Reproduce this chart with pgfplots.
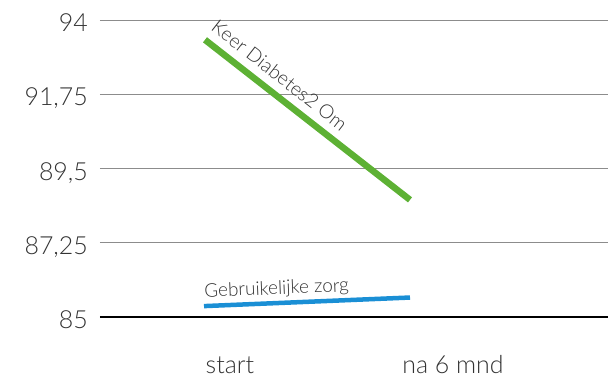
\documentclass[border=0pt]{standalone}
\usepackage{pgfplots}
\pgfplotsset{compat=1.18}
\usepackage{fontspec}
\setmainfont{Lato Light}
\definecolor{kdgreen}{HTML}{5DB134}
\definecolor{gzblue}{HTML}{1A8FD5}
\definecolor{txt}{HTML}{333333}
\definecolor{gridc}{HTML}{8C8C8C}
\begin{document}
\begin{tikzpicture}
\useasboundingbox (-100bp,-62bp) rectangle (508bp,317bp);
\begin{axis}[
  at={(0,0)}, anchor=south west,
  scale only axis, width=508bp, height=297bp,
  xmin=0, xmax=508, ymin=85, ymax=94,
  clip=false,
  axis x line*=bottom, axis y line*=left,
  y axis line style={draw=none},
  x axis line style={black, line width=1.5bp},
  major tick length=0pt,
  xtick={130,353}, xticklabels={start,na 6 mnd},
  ytick={85,87.25,89.5,91.75,94},
  yticklabels={85,{87,25},{89,5},{91,75},94},
  ymajorgrids, grid style={gridc, line width=1bp},
  tick label style={font=\fontsize{25}{30}\selectfont, text=txt},
  xticklabel style={anchor=base, inner sep=0pt, yshift=-56bp},
  yticklabel style={anchor=base east, inner sep=0pt, xshift=-12bp, yshift=-11.5bp},
]
\addplot[kdgreen, line width=6.5bp] coordinates {(105,93.40) (310,88.55)}
  node[pos=0.31, sloped, anchor=base, inner sep=0pt, yshift=11bp,
       font=\fontsize{19.5}{22}\selectfont, text=txt] {Keer Diabetes2 Om};
\addplot[gzblue, line width=4.5bp] coordinates {(104,85.33) (310,85.59)}
  node[pos=0.355, sloped, anchor=base, inner sep=0pt, yshift=8.7bp,
       font=\fontsize{19}{22}\selectfont, text=txt] {Gebruikelijke zorg};
\end{axis}
\end{tikzpicture}
\end{document}
